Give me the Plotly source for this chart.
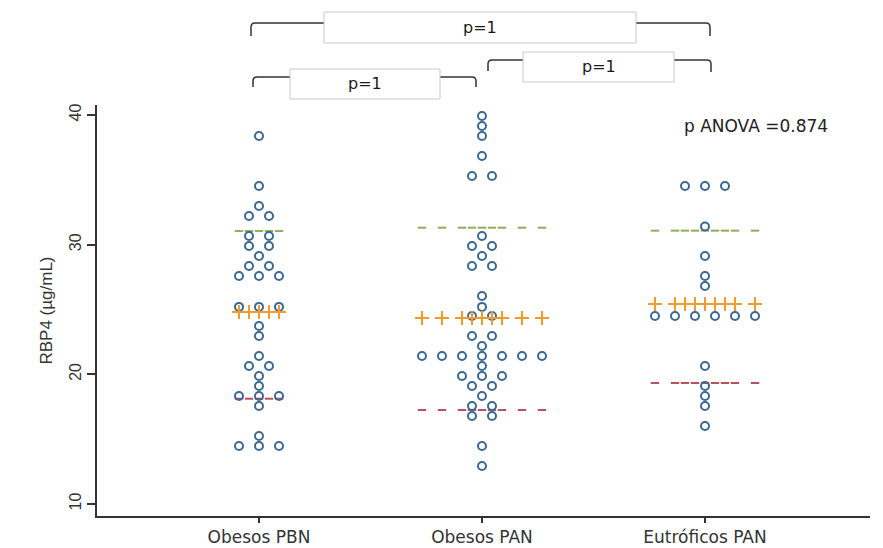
import plotly.graph_objects as go

# ---------------- data ----------------
groups = ["Obesos PBN", "Obesos PAN", "Eutróficos PAN"]
group_pos = [1, 2, 3]

rbp4_pbn = [38.38, 34.52, 32.98, 32.21, 32.21, 30.67, 30.67, 29.90, 29.90, 29.13,
            28.36, 28.36, 27.58, 27.58, 27.58, 25.2, 25.2, 25.2, 23.73, 22.96,
            21.41, 20.64, 20.64, 19.87, 19.10, 18.33, 18.33, 18.33, 17.56, 15.24,
            14.47, 14.47, 14.47]
rbp4_pan = [39.92, 39.15, 38.38, 36.84, 35.30, 35.30, 30.67, 29.90, 29.90, 29.13,
            28.36, 28.36, 26.04, 25.2, 24.50, 24.50, 22.96, 22.96, 22.19,
            21.41, 21.41, 21.41, 21.41, 21.41, 21.41, 21.41, 20.64,
            19.87, 19.87, 19.87, 19.10, 19.10, 18.33, 17.56, 17.56, 16.79, 16.79,
            14.47, 12.93]
rbp4_eut = [34.52, 34.52, 34.52, 31.4, 29.13, 27.58, 26.81,
            24.50, 24.50, 24.50, 24.50, 24.50, 24.50,
            20.64, 19.10, 18.33, 17.56, 16.02]
group_values = [rbp4_pbn, rbp4_pan, rbp4_eut]

means = [24.81, 24.34, 25.42]
mean_plus_sd = [31.05, 31.31, 31.08]
mean_minus_sd = [18.12, 17.25, 19.33]

y_ticks = [10, 20, 30, 40]
y_title = "RBP4 (µg/mL)"
anova_text = "p ANOVA =0.874"
pair_text = ["p=1", "p=1", "p=1"]

# ---------------- layout constants ----------------
W, H = 883, 548
ML, MR, MT, MB = 97, 13, 105, 32
COL = 0.0897  # horizontal step between stacked dots (data units)

PT_COLOR = "#3b6894"
MEAN_COLOR = "#f39a2e"
UP_COLOR = "#8fae5c"
LOW_COLOR = "#b8525c"
AX_COLOR = "#333333"

def px(xp):
    return (xp - ML) / (W - ML - MR)

def py(yp):
    return (H - MB - yp) / (H - MT - MB)

fig = go.Figure()

for gi, vals in enumerate(group_values):
    counts = {}
    for v in vals:
        counts[v] = counts.get(v, 0) + 1
    xs, ys = [], []
    offsets = set()
    for v, n in counts.items():
        for i in range(n):
            off = i - (n - 1) / 2
            offsets.add(off)
            xs.append(group_pos[gi] + off * COL)
            ys.append(v)
    offs = sorted(offsets)
    lx = [group_pos[gi] + o * COL for o in offs]
    fig.add_trace(go.Scatter(
        x=lx, y=[mean_plus_sd[gi]] * len(lx), mode="markers",
        marker=dict(symbol="line-ew", size=6, color=UP_COLOR,
                    line=dict(color=UP_COLOR, width=2)),
        showlegend=False, hoverinfo="skip"))
    fig.add_trace(go.Scatter(
        x=lx, y=[mean_minus_sd[gi]] * len(lx), mode="markers",
        marker=dict(symbol="line-ew", size=6, color=LOW_COLOR,
                    line=dict(color=LOW_COLOR, width=2)),
        showlegend=False, hoverinfo="skip"))
    fig.add_trace(go.Scatter(
        x=xs, y=ys, mode="markers",
        marker=dict(symbol="circle-open", size=8, color=PT_COLOR,
                    line=dict(color=PT_COLOR, width=2)),
        showlegend=False, name=groups[gi]))
    fig.add_trace(go.Scatter(
        x=lx, y=[means[gi]] * len(lx), mode="markers",
        marker=dict(symbol="cross-thin", size=10, color=MEAN_COLOR,
                    line=dict(color=MEAN_COLOR, width=2)),
        showlegend=False, hoverinfo="skip"))

# x: 259px -> 1, 223 px per unit
x0 = 1 - (259 - ML) / 223
x1 = 1 + (W - MR - 259) / 223
# y: 40 -> 115px, 10 -> 504px
k = (504 - 115) / 30
y1 = 40 + (115 - MT) / k
y0 = 10 - (H - MB - 504) / k

fig.update_xaxes(range=[x0, x1], tickvals=group_pos, ticktext=groups,
                 automargin=False,
                 showline=True, linecolor=AX_COLOR, linewidth=1.5,
                 ticks="outside", ticklen=5, tickcolor=AX_COLOR, tickwidth=1.5,
                 showgrid=False, zeroline=False,
                 tickfont=dict(family="DejaVu Sans", size=17, color="#333333"))
fig.update_yaxes(range=[y0, y1], tickvals=y_ticks, tickangle=-90,
                 automargin=False,
                 showline=True, linecolor=AX_COLOR, linewidth=1.5,
                 ticks="outside", ticklen=8, tickcolor=AX_COLOR, tickwidth=1.5,
                 showgrid=False, zeroline=False,
                 tickfont=dict(family="Liberation Sans Narrow, Liberation Sans", size=16, color="#333333"),
                 title=dict(text=y_title, standoff=10,
                            font=dict(family="Liberation Sans Narrow, Liberation Sans", size=17, color="#333333")))

shapes = []
annots = []

def bracket(xl, xr, yt, ybl, ybr, r=4):
    path = (f"M {px(xl)},{py(ybl)} L {px(xl)},{py(yt + r)} "
            f"Q {px(xl)},{py(yt)} {px(xl + r)},{py(yt)} "
            f"L {px(xr - r)},{py(yt)} Q {px(xr)},{py(yt)} {px(xr)},{py(yt + r)} "
            f"L {px(xr)},{py(ybr)}")
    shapes.append(dict(type="path", xref="paper", yref="paper", path=path,
                       line=dict(color="#333333", width=1.5)))

def box(xl, xr, yt, yb, text):
    shapes.append(dict(type="rect", xref="paper", yref="paper",
                       x0=px(xl), x1=px(xr), y0=py(yb), y1=py(yt),
                       line=dict(color="#c8c8c8", width=1), fillcolor="white"))
    annots.append(dict(xref="paper", yref="paper", x=px((xl + xr) / 2), y=py((yt + yb) / 2),
                       text=text, showarrow=False, xanchor="center", yanchor="middle",
                       font=dict(family="DejaVu Sans", size=16, color="#1a1a1a")))

bracket(251, 710, 23, 36, 36)
box(324, 636, 12, 43, pair_text[0])
bracket(253, 476, 77, 87, 87)
box(290, 440, 69, 99, pair_text[1])
bracket(488, 711, 60, 71, 72)
box(523, 674, 52, 82, pair_text[2])

annots.append(dict(xref="paper", yref="paper", x=px(682), y=py(126), text=anova_text,
                   showarrow=False, xanchor="left", yanchor="middle",
                   font=dict(family="DejaVu Sans", size=17, color="#222222")))

fig.update_layout(width=W, height=H, margin=dict(l=ML, r=MR, t=MT, b=MB),
                  paper_bgcolor="white", plot_bgcolor="white",
                  shapes=shapes, annotations=annots, showlegend=False)

fig.write_html("out.html")
